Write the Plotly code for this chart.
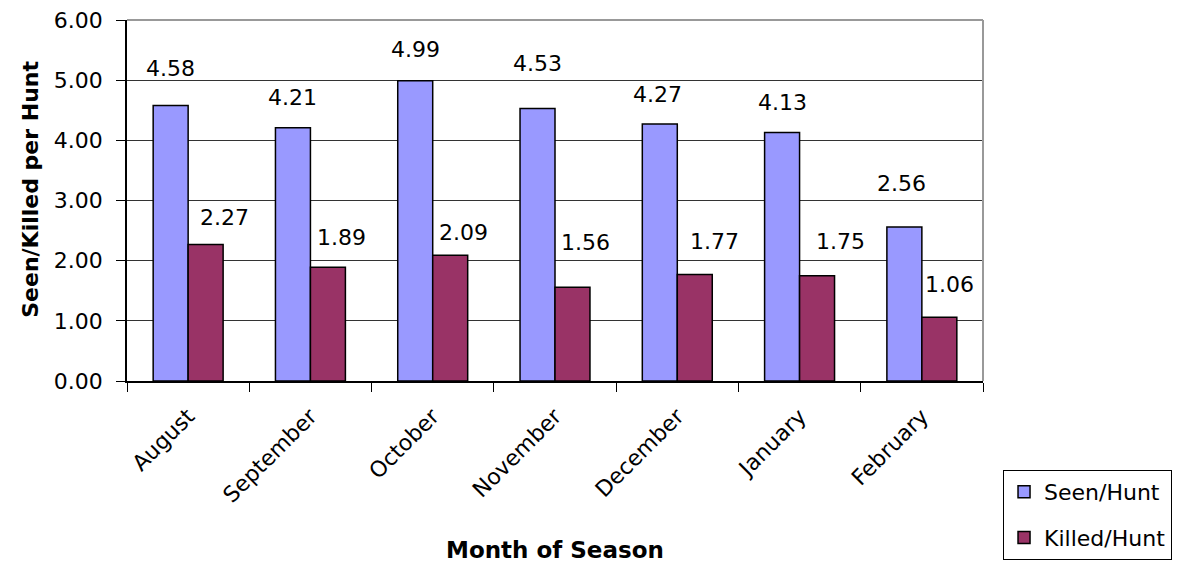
import plotly.graph_objects as go

# Monthly hunt statistics
months = ["August", "September", "October", "November", "December", "January", "February"]
seen_per_hunt = [4.58, 4.21, 4.99, 4.53, 4.27, 4.13, 2.56]
killed_per_hunt = [2.27, 1.89, 2.09, 1.56, 1.77, 1.75, 1.06]

# Value-label placement (pixels above the bar top / sideways nudge)
seen_label_dy = [37, 30, 31, 45, 30, 30, 43]
seen_label_dx = [0, 0, 0, 0, -2, 0, -3]
killed_label_dy = [27, 30, 23, 45, 33, 34, 33]
killed_label_dx = [19, 14, 13, 13, 20, 23, 10]

FONT = "DejaVu Sans"
SEEN_COLOR = "#9999FF"
KILLED_COLOR = "#993366"

fig = go.Figure()
fig.add_trace(go.Bar(
    x=months, y=seen_per_hunt, name="Seen/Hunt", legendgroup="seen",
    marker=dict(color=SEEN_COLOR, line=dict(color="black", width=1.5)),
))
fig.add_trace(go.Bar(
    x=months, y=killed_per_hunt, name="Killed/Hunt", legendgroup="killed",
    marker=dict(color=KILLED_COLOR, line=dict(color="black", width=1.5)),
))

# value labels
half_bar_px = 17.5
for m, v, dx, dy in zip(months, seen_per_hunt, seen_label_dx, seen_label_dy):
    fig.add_annotation(x=m, y=v, xref="x", yref="y", text=f"{v:.2f}",
                       showarrow=False, xshift=-half_bar_px + dx, yshift=dy,
                       xanchor="center", yanchor="middle",
                       font=dict(family=FONT, size=22, color="black"))
for m, v, dx, dy in zip(months, killed_per_hunt, killed_label_dx, killed_label_dy):
    fig.add_annotation(x=m, y=v, xref="x", yref="y", text=f"{v:.2f}",
                       showarrow=False, xshift=half_bar_px + dx, yshift=dy,
                       xanchor="center", yanchor="middle",
                       font=dict(family=FONT, size=22, color="black"))

# axis titles
fig.add_annotation(x=0.5, y=-0.468, xref="paper", yref="paper",
                   text="<b>Month of Season</b>", showarrow=False,
                   xanchor="center", yanchor="middle",
                   font=dict(family=FONT, size=23, color="black"))
fig.add_annotation(x=-0.112, y=0.53, xref="paper", yref="paper",
                   text="<b>Seen/Killed per Hunt</b>", showarrow=False,
                   textangle=-90, xanchor="center", yanchor="middle",
                   font=dict(family=FONT, size=22, color="black"))

# plot-area frame (top and right edges in grey)
fig.add_shape(type="line", xref="paper", yref="paper", x0=0, x1=1, y0=1, y1=1,
              line=dict(color="#999999", width=2), layer="above")
fig.add_shape(type="line", xref="paper", yref="paper", x0=1, x1=1, y0=0, y1=1,
              line=dict(color="#999999", width=2), layer="above")

fig.update_layout(
    width=1178, height=566,
    margin=dict(l=127, r=195, t=20, b=185, autoexpand=False),
    paper_bgcolor="white", plot_bgcolor="white",
    barmode="group", bargap=0.428, bargroupgap=0,
    font=dict(family=FONT, size=22, color="black"),
    showlegend=True,
    legend=dict(
        x=1.0234, y=-0.2465, xanchor="left", yanchor="top",
        bgcolor="white", bordercolor="black", borderwidth=1,
        font=dict(family=FONT, size=22, color="black"),
        traceorder="grouped", tracegroupgap=14,
    ),
)

fig.update_xaxes(
    type="category", tickson="boundaries", ticks="outside", ticklen=9,
    tickcolor="black", tickwidth=1, tickangle=-45,
    ticklabelstandoff=12,
    showline=True, linecolor="black", linewidth=1.5,
    showgrid=False, automargin=False,
    tickfont=dict(family=FONT, size=22, color="black"),
)
fig.update_yaxes(
    range=[0, 6], dtick=1, tickformat=".2f",
    ticks="outside", ticklen=9, tickcolor="black", tickwidth=1,
    ticklabelstandoff=9,
    showline=True, linecolor="black", linewidth=1.5,
    showgrid=True, gridcolor="#333333", gridwidth=1,
    zeroline=False, automargin=False,
    tickfont=dict(family=FONT, size=22, color="black"),
)

fig.write_html("out.html")
